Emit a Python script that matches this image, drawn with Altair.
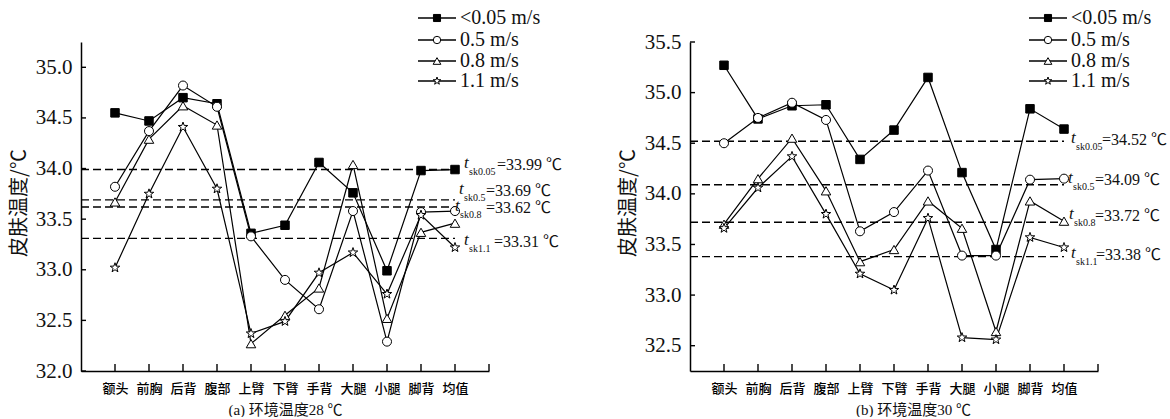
import altair as alt
import pandas as pd

# Body sites along the x axis (last one is the mean)
parts = ["额头", "前胸", "后背", "腹部", "上臂", "下臂", "手背", "大腿", "小腿", "脚背", "均值"]
speeds = ["<0.05 m/s", "0.5 m/s", "0.8 m/s", "1.1 m/s"]
sub_keys = ["sk0.05", "sk0.5", "sk0.8", "sk1.1"]

# Skin temperature (°C), ambient 28 °C
t28_v005 = [34.55, 34.47, 34.70, 34.64, 33.36, 33.44, 34.06, 33.76, 32.99, 33.98, 33.99]
t28_v05 = [33.82, 34.37, 34.82, 34.61, 33.33, 32.90, 32.61, 33.58, 32.29, 33.57, 33.58]
t28_v08 = [33.67, 34.29, 34.62, 34.43, 32.27, 32.55, 32.82, 34.04, 32.52, 33.37, 33.46]
t28_v11 = [33.02, 33.75, 34.41, 33.80, 32.37, 32.49, 32.97, 33.17, 32.76, 33.54, 33.22]
tsk28 = [33.99, 33.69, 33.62, 33.31]

# Skin temperature (°C), ambient 30 °C
t30_v005 = [35.27, 34.74, 34.87, 34.88, 34.34, 34.63, 35.15, 34.21, 33.45, 34.84, 34.64]
t30_v05 = [34.50, 34.75, 34.90, 34.73, 33.63, 33.82, 34.23, 33.39, 33.39, 34.14, 34.15]
t30_v08 = [33.70, 34.15, 34.55, 34.03, 33.33, 33.45, 33.93, 33.66, 32.64, 33.93, 33.73]
t30_v11 = [33.66, 34.06, 34.37, 33.80, 33.21, 33.05, 33.76, 32.58, 32.56, 33.57, 33.47]
tsk30 = [34.52, 34.09, 33.72, 33.38]

# ---- layout / style ----
W, H = 408, 329
X_SPAN = 12.0
PX_X = W / X_SPAN
TIMES = "Times New Roman, Liberation Serif, DejaVu Serif, serif"
SERIF = "Times New Roman, Liberation Serif, Noto Sans CJK SC, serif"
CJK = "Noto Sans CJK SC"
STAR = ("M0,-1L0.235,-0.324L0.951,-0.309L0.380,0.124L0.588,0.809L0,0.4"
        "L-0.588,0.809L-0.380,0.124L-0.951,-0.309L-0.235,-0.324Z")
shape_scale = alt.Scale(domain=speeds, range=["square", "circle", "triangle-up", STAR])
fill_scale = alt.Scale(domain=speeds, range=["black", "white", "white", "white"])
size_scale = alt.Scale(domain=speeds, range=[72, 100, 135, 140])
legend_size_scale = alt.Scale(domain=speeds, range=[50, 64, 80, 90])

label_expr = "[" + ",".join("'%s'" % p for p in parts) + "][datum.value - 1]"


def panel(series, tsk, y_domain, y_ticks, caption, caption_shift, ann, legend_x0):
    py = H / (y_domain[1] - y_domain[0])

    rows = []
    for s, vals in zip(speeds, series):
        for i, v in enumerate(vals):
            rows.append({"pos": i + 1, "temp": v, "speed": s, "order": i})
    df = pd.DataFrame(rows)

    xs = alt.Scale(domain=[0, X_SPAN], nice=False, zero=False)
    ys = alt.Scale(domain=y_domain, nice=False, zero=False)
    x_axis = alt.Axis(
        values=list(range(1, 12)), labelExpr=label_expr, ticks=False, grid=False,
        domainColor="black", domainWidth=1.5, labelFont=CJK, labelFontSize=13,
        labelFontWeight=500, labelColor="#000", labelPadding=11, title=caption,
        titleFont=SERIF, titleFontSize=15, titleFontWeight="normal", titleColor="#111",
        titlePadding=7, titleX=W / 2 + caption_shift,
    )
    y_axis = alt.Axis(
        values=y_ticks, format=".1f", ticks=False, grid=False, domainColor="black",
        domainWidth=1.5, labelFont=TIMES, labelFontSize=21, labelColor="#111",
        labelPadding=9, title="皮肤温度/℃", titleFont=CJK, titleFontSize=20,
        titleFontWeight="normal", titleColor="#111", titleAngle=270,
        titleBaseline="middle", titleAlign="center", titleX=-62, titleY=H / 2 - 4,
    )

    def X(f):
        return alt.X(f, type="quantitative", scale=xs, axis=x_axis)

    def Y(f):
        return alt.Y(f, type="quantitative", scale=ys, axis=y_axis)

    base = alt.Chart(df)
    lines = base.mark_line(color="black", strokeWidth=1.2).encode(
        x=X("pos"), y=Y("temp"), detail="speed:N", order="order:Q"
    )
    points = base.mark_point(filled=True, opacity=1, strokeWidth=1, stroke="black").encode(
        x=X("pos"), y=Y("temp"),
        shape=alt.Shape("speed:N", scale=shape_scale, legend=None),
        fill=alt.Fill("speed:N", scale=fill_scale, legend=None),
        size=alt.Size("speed:N", scale=size_scale, legend=None),
    )

    # dashed reference lines at the mean skin temperature
    mdf = pd.DataFrame({"tsk": tsk, "x0": [0] * 4, "x1": [11] * 4})
    mean_rules = alt.Chart(mdf).mark_rule(color="black", strokeWidth=1.4, strokeDash=[8, 4]).encode(
        x=X("x0"), x2="x1", y=Y("tsk")
    )

    # inward ticks on both axes
    xt = pd.DataFrame({"p": list(range(1, 13))})
    x_ticks = alt.Chart(xt).mark_rule(color="black", strokeWidth=1.4).encode(
        x=X("p"), y=alt.value(H), y2=alt.value(H - 7)
    )
    yt = pd.DataFrame({"v": y_ticks})
    y_ticks_m = alt.Chart(yt).mark_rule(color="black", strokeWidth=1.4).encode(
        y=Y("v"), x=alt.value(0), x2=alt.value(5)
    )

    # annotations t_sk = value ℃ next to the mean point
    arows = []
    for k, v, (dxt, dym, dxm) in zip(sub_keys, tsk, ann):
        arows.append({
            "xt": 11 + dxt / PX_X, "yt": v - (dym - 2) / py,
            "xs": 11 + (dxt + 5) / PX_X, "ys": v - (dym + 7) / py,
            "xm": 11 + dxm / PX_X, "ym": v - dym / py,
            "sub": k, "main": "=%.2f ℃" % v,
        })
    adf = pd.DataFrame(arows)
    abase = alt.Chart(adf)
    t_txt = abase.mark_text(align="left", baseline="middle", font=TIMES,
                            fontStyle="italic", fontSize=17, color="#111").encode(
        x=X("xt"), y=Y("yt"), text=alt.value("t"))
    s_txt = abase.mark_text(align="left", baseline="middle", font=TIMES,
                            fontSize=10, color="#111").encode(
        x=X("xs"), y=Y("ys"), text="sub:N")
    m_txt = abase.mark_text(align="left", baseline="middle", font=SERIF,
                            fontSize=16, color="#111").encode(
        x=X("xm"), y=Y("ym"), text="main:N")

    # legend block at the top right of each panel
    leg_rows_px = [-24, -2, 19, 39]
    lrows = []
    for s, ry in zip(speeds, leg_rows_px):
        lrows.append({
            "speed": s, "y": y_domain[1] - ry / py,
            "x1": legend_x0 / PX_X, "x2": (legend_x0 + 38) / PX_X,
            "xm": (legend_x0 + 19) / PX_X, "xt": (legend_x0 + 42) / PX_X,
        })
    ldf = pd.DataFrame(lrows)
    lbase = alt.Chart(ldf)
    l_lines = lbase.mark_rule(color="black", strokeWidth=1.4).encode(
        x=X("x1"), x2="x2", y=Y("y"))
    l_pts = lbase.mark_point(filled=True, opacity=1, strokeWidth=1, stroke="black").encode(
        x=X("xm"), y=Y("y"),
        shape=alt.Shape("speed:N", scale=shape_scale, legend=None),
        fill=alt.Fill("speed:N", scale=fill_scale, legend=None),
        size=alt.Size("speed:N", scale=legend_size_scale, legend=None),
    )
    l_txt = lbase.mark_text(align="left", baseline="middle", font=TIMES,
                            fontSize=20, color="#111").encode(
        x=X("xt"), y=Y("y"), text="speed:N")

    return alt.layer(
        mean_rules, lines, points, x_ticks, y_ticks_m,
        t_txt, s_txt, m_txt, l_lines, l_txt, l_pts,
    ).resolve_scale(size="independent").properties(width=W, height=H)


left = panel(
    [t28_v005, t28_v05, t28_v08, t28_v11], tsk28, [32.0, 35.25],
    [32.0, 32.5, 33.0, 33.5, 34.0, 34.5, 35.0], "(a) 环境温度28 ℃", 0,
    [(9, -5, 42), (4, -8.5, 31), (0, 1.4, 31), (9, 4, 39)], 337,
)
right = panel(
    [t30_v005, t30_v05, t30_v08, t30_v11], tsk30, [32.25, 35.5],
    [32.5, 33.0, 33.5, 34.0, 34.5, 35.0, 35.5], "(b) 环境温度30 ℃", 19,
    [(7, -1, 38), (4, -5, 31), (5, -6, 31), (7, -2, 32)], 339,
)

chart = alt.hconcat(left, right, spacing=201, bounds="flush").properties(
    padding={"left": 9, "top": 8, "right": 2, "bottom": 0},
    background="white",
).configure_view(stroke=None)

chart.save("out.html", embed_options={"renderer": "svg", "actions": False})
